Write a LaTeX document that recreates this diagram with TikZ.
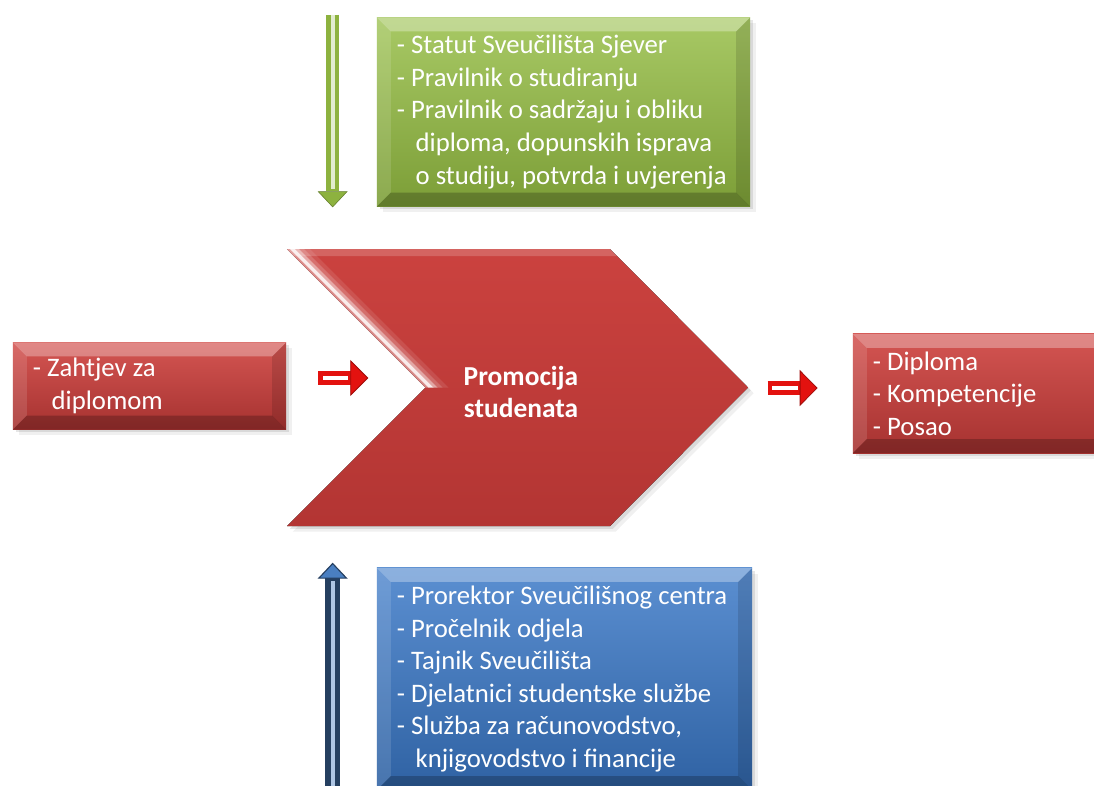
\documentclass[tikz,border=0pt]{standalone}
\usepackage{fontspec}
\setmainfont{Carlito}
\usepackage{xcolor}
\usetikzlibrary{calc,shadows,arrows.meta}

\definecolor{redtop}{HTML}{D45552}
\definecolor{redbot}{HTML}{A63230}
\definecolor{greentop}{HTML}{A8C965}
\definecolor{greenbot}{HTML}{7C9E37}
\definecolor{bluetop}{HTML}{5B8FD1}
\definecolor{bluebot}{HTML}{2F62A3}
\definecolor{chevtop}{HTML}{CB423F}
\definecolor{chevbot}{HTML}{B33533}
\definecolor{arrowred}{HTML}{E3120F}
\definecolor{lawgreen}{HTML}{8DB23F}
\definecolor{staffblue}{HTML}{4A7FC1}

\tikzset{
  bevel/.style={path picture={
    \path (path picture bounding box.north west) coordinate (bnw)
          (path picture bounding box.north east) coordinate (bne)
          (path picture bounding box.south west) coordinate (bsw)
          (path picture bounding box.south east) coordinate (bse);
    \fill[white, opacity=.30] (bnw) -- (bne) -- ($(bne)+(-14,14)$) -- ($(bnw)+(14,14)$) -- cycle;
    \fill[white, opacity=.12] (bnw) -- ($(bnw)+(14,14)$) -- ($(bsw)+(14,-14)$) -- (bsw) -- cycle;
    \fill[black, opacity=.12] (bne) -- (bse) -- ($(bse)+(-14,-14)$) -- ($(bne)+(-14,14)$) -- cycle;
    \fill[black, opacity=.22] (bsw) -- (bse) -- ($(bse)+(-14,-14)$) -- ($(bsw)+(14,-14)$) -- cycle;
  }},
  softshadow/.style={drop shadow={shadow xshift=4pt, shadow yshift=-4pt, opacity=.12},
    drop shadow={shadow xshift=2pt, shadow yshift=-2pt, opacity=.2}},
  panel/.style={rectangle, align=flush left, text=white, font=\fontsize{19}{23.2}\selectfont,
    inner xsep=0.5cm, inner ysep=0pt, bevel, softshadow},
  redpanel/.style={panel, top color=redtop, bottom color=redbot},
  greenpanel/.style={panel, top color=greentop, bottom color=greenbot},
  bluepanel/.style={panel, top color=bluetop, bottom color=bluebot},
  redarrow/.style={draw=arrowred, line width=0.35cm,
    -{Triangle[width=0.9cm, length=0.45cm, line width=0.6pt, color=arrowred!70!black, fill=arrowred]}},
  redshine/.style={draw=white, line width=0.08cm, shorten <=0.12cm, shorten >=0.5cm},
  lawarrow/.style={draw=lawgreen, line width=0.33cm,
    -{Triangle[width=0.75cm, length=0.4cm, line width=0.4pt, color=lawgreen!70!black, fill=lawgreen]}},
  lawshine/.style={draw=lawgreen!25!white, line width=0.1cm, shorten >=0.45cm},
  staffarrow/.style={draw=staffblue!50!black, line width=0.36cm,
    -{Triangle[width=0.75cm, length=0.4cm, line width=0.8pt, color=staffblue!50!black, fill=staffblue]}},
  staffshine/.style={draw=staffblue!45!white, line width=0.1cm, shorten >=0.45cm},
}

\begin{document}
\begin{tikzpicture}[x=0.025cm, y=-0.025cm]
  \useasboundingbox (0,0) rectangle (1094,785);

  % chevron
  \fill[softshadow, top color=chevtop, bottom color=chevbot]
    (287,249) -- (610,249) -- (748,387.5) -- (610,526) -- (287,526) -- (425.5,387.5) -- cycle;
  \fill[white, opacity=.18] (287,249) -- (610,249) -- (617,256) -- (294,256) -- cycle;
  \fill[white, opacity=.4] (287,249) -- (290,249) -- (428.5,387.5) -- (425.5,387.5) -- cycle;
  \fill[white, opacity=.9] (290,249) -- (295,249) -- (433.5,387.5) -- (428.5,387.5) -- cycle;
  \fill[white, opacity=.55] (295,249) -- (299,249) -- (437.5,387.5) -- (433.5,387.5) -- cycle;
  \fill[white, opacity=.25] (299,249) -- (304,249) -- (442.5,387.5) -- (437.5,387.5) -- cycle;
  \fill[white, opacity=.1] (304,249) -- (310,249) -- (448.5,387.5) -- (442.5,387.5) -- cycle;
  \node[font=\fontsize{19.5}{23.2}\selectfont\bfseries, text=white, align=center] (promo) at (521,392) {Promocija\\studenata};

  \node[redpanel, text width=5.825cm, minimum height=2.175cm] (zahtjev) at (149.5,386)
    {- Zahtjev za\\\hspace*{0.7em}diplomom};
  \node[redpanel, text width=5.425cm, minimum height=2.975cm] (ishod) at (981.5,393.5)
    {- Diploma\\- Kompetencije\\- Posao};
  \node[greenpanel, text width=8.325cm, minimum height=4.725cm] (pravila) at (563.5,112)
    {- Statut Sveučilišta Sjever\\- Pravilnik o studiranju\\- Pravilnik o sadržaju i obliku\\\hspace*{0.7em}diploma, dopunskih isprava\\\hspace*{0.7em}o studiju, potvrda i uvjerenja};
  \node[bluepanel, text width=8.375cm, minimum height=5.55cm] (ljudi) at (564.5,679)
    {- Prorektor Sveučilišnog centra\\- Pročelnik odjela\\- Tajnik Sveučilišta\\- Djelatnici studentske službe\\- Služba za računovodstvo,\\\hspace*{0.7em}knjigovodstvo i financije};

  \coordinate (in1) at ($(zahtjev.east)+(32,-8)$);
  \coordinate (in2) at ($(zahtjev.east)+(82,-8)$);
  \draw[redarrow] (in1) -- (in2);
  \draw[redshine] (in1) -- (in2);
  \coordinate (out1) at ($(ishod.west)+(-85,-5.5)$);
  \coordinate (out2) at ($(ishod.west)+(-35,-5.5)$);
  \draw[redarrow] (out1) -- (out2);
  \draw[redshine] (out1) -- (out2);

  \coordinate (law1) at ($(pravila.north west)+(-44,-2.5)$);
  \coordinate (law2) at ($(pravila.south west)+(-44,0.5)$);
  \draw[lawarrow] (law1) -- (law2);
  \draw[lawshine] (law1) -- (law2);
  \coordinate (staff1) at ($(ljudi.south west)+(-44,0)$);
  \coordinate (staff2) at ($(ljudi.north west)+(-44,-5)$);
  \draw[staffarrow] (staff1) -- (staff2);
  \draw[staffshine] (staff1) -- (staff2);
\end{tikzpicture}
\end{document}
